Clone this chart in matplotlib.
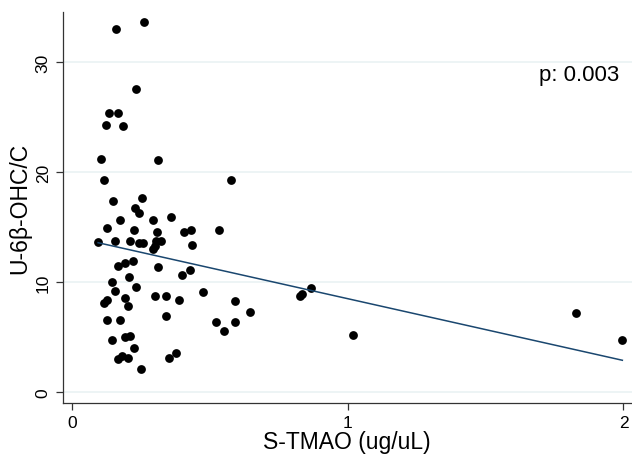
import numpy as np
import matplotlib
matplotlib.use("Agg")
import matplotlib.pyplot as plt

# Data
tmao = [0.158, 0.261, 0.232, 0.132, 0.165, 0.123, 0.182, 0.105, 0.309, 0.115,
        0.575, 0.146, 0.253, 0.226, 0.242, 0.172, 0.294, 0.356, 0.125, 0.225,
        0.308, 0.403, 0.430, 0.531, 0.093, 0.156, 0.209, 0.242, 0.257, 0.304,
        0.322, 0.435, 0.293, 0.301, 0.164, 0.190, 0.219, 0.310, 0.428, 0.399,
        0.144, 0.204, 0.156, 0.232, 0.472, 0.301, 0.340, 0.385, 0.590, 0.124,
        0.116, 0.192, 0.201, 0.644, 0.127, 0.172, 0.339, 0.520, 0.591, 0.551,
        0.192, 0.209, 0.144, 0.225, 0.181, 0.165, 0.200, 0.377, 0.350, 0.247,
        0.827, 0.832, 0.866, 1.017, 1.826, 1.996]
ohc = [33.03, 33.64, 27.57, 25.45, 25.39, 24.30, 24.24, 21.25, 21.16, 19.28,
       19.30, 17.36, 17.69, 16.73, 16.27, 15.66, 15.69, 15.98, 14.96, 14.73,
       14.55, 14.55, 14.75, 14.80, 13.65, 13.80, 13.80, 13.57, 13.55, 13.73,
       13.75, 13.42, 13.05, 13.35, 11.48, 11.75, 11.98, 11.36, 11.12, 10.66,
       10.03, 10.45, 9.25, 9.60, 9.15, 8.75, 8.75, 8.36, 8.33, 8.42,
       8.16, 8.55, 7.87, 7.27, 6.57, 6.60, 6.94, 6.42, 6.39, 5.62,
       5.05, 5.12, 4.75, 4.03, 3.35, 3.00, 3.09, 3.57, 3.09, 2.15,
       8.75, 8.94, 9.51, 5.18, 7.24, 4.75]
x_ticks = [0, 1, 2]
y_ticks = [0, 10, 20, 30]
p_text = "p: 0.003"

plt.rcParams['font.family'] = ['Liberation Sans', 'DejaVu Sans']

fig = plt.figure(figsize=(6.32, 4.56), dpi=100)
ax = fig.add_axes([0.099, 0.114, 0.901, 0.857])

x = np.array(tmao)
y = np.array(ohc)
b, a = np.polyfit(x, y, 1)
xl = np.array([x.min(), x.max()])

for yt in y_ticks:
    ax.axhline(yt, color='#eaf2f3', lw=1.2, zorder=0)

ax.scatter(x, y, s=40, color='black', zorder=3, linewidths=0)
ax.plot(xl, a + b * xl, color='#1a476f', lw=1.1, zorder=4)

ax.set_xlim(-0.036, 2.031)
ax.set_ylim(-0.97, 34.57)
ax.set_xticks(x_ticks)
ax.set_yticks(y_ticks)
ax.set_xticklabels([str(t) for t in x_ticks], fontsize=12.5)
ax.set_yticklabels([str(t) for t in y_ticks], fontsize=12.5, rotation=90, va='center')
ax.tick_params(axis='both', direction='out', length=5, width=0.9, color='#333333')

for s in ['top', 'right']:
    ax.spines[s].set_visible(False)
for s in ['left', 'bottom']:
    ax.spines[s].set_color('#333333')
    ax.spines[s].set_linewidth(0.9)

ax.set_xlabel("S-TMAO (ug/uL)", fontsize=16.5, labelpad=0)
ax.set_ylabel("U-6β-OHC/C", fontsize=16.5, labelpad=3)
ax.text(1.985, 28.9, p_text, fontsize=16, ha='right', va='center')

fig.savefig("out.png", dpi=100)
